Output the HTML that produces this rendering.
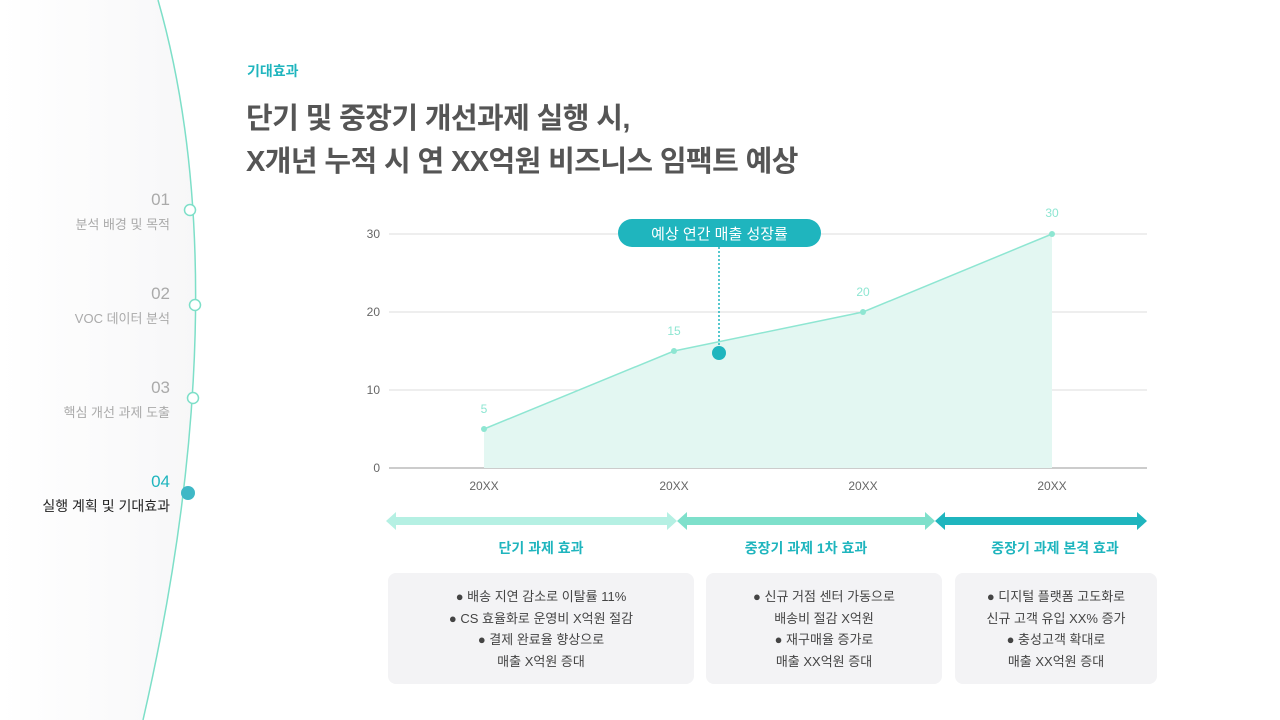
<!DOCTYPE html>
<html><head><meta charset="utf-8"><style>
body{margin:0;width:1280px;height:720px;overflow:hidden;background:#fff;font-family:"Liberation Sans","Noto Sans CJK KR",sans-serif;position:relative}
.a{position:absolute}
.nav{right:1110px;text-align:right;color:#aaa;font-size:13px;width:200px}
.nav b{display:block;font-weight:normal;font-size:17px;color:#aaa;margin-bottom:4px}
.box{position:absolute;top:573px;height:111px;background:#f3f3f5;border-radius:8px;text-align:center;font-size:13px;color:#444;line-height:21.5px;padding-top:13px;box-sizing:border-box}
.lab{position:absolute;top:538px;font-size:14px;font-weight:bold;color:#1fb5be;text-align:center}
</style></head><body>
<svg class="a" style="left:0;top:0" width="1280" height="720">
<defs><linearGradient id="g" x1="0" x2="1"><stop offset="0" stop-color="#fff"/><stop offset="1" stop-color="#f7f7f8"/></linearGradient></defs>
<path d="M0 0 L158 0 C 215 200, 205 450, 143 720 L0 720Z" fill="url(#g)"/>
<path d="M158 0 C 215 200, 205 450, 143 720" fill="none" stroke="#7ddfc8" stroke-width="1.5"/>
<circle cx="190" cy="210" r="5.5" fill="#fff" stroke="#7ddfc8" stroke-width="1.5"/>
<circle cx="195" cy="305" r="5.5" fill="#fff" stroke="#7ddfc8" stroke-width="1.5"/>
<circle cx="193" cy="398" r="5.5" fill="#fff" stroke="#7ddfc8" stroke-width="1.5"/>
<circle cx="188" cy="493" r="7" fill="#3fb8c6"/>
<g stroke="#ddd" stroke-width="1"><line x1="389" y1="234" x2="1147" y2="234"/><line x1="389" y1="312" x2="1147" y2="312"/><line x1="389" y1="390" x2="1147" y2="390"/></g>
<line x1="389" y1="468" x2="1147" y2="468" stroke="#bbb" stroke-width="1.5"/>
<polygon points="484,429 674,351 863,312 1052,234 1052,468 484,468" fill="#e3f7f2"/>
<polyline points="484,429 674,351 863,312 1052,234" fill="none" stroke="#8ee6d2" stroke-width="1.5"/>
<g fill="#8ee6d2"><circle cx="484" cy="429" r="3"/><circle cx="674" cy="351" r="3"/><circle cx="863" cy="312" r="3"/><circle cx="1052" cy="234" r="3"/></g>
<g font-size="12" fill="#8ee6d2" text-anchor="middle"><text x="484" y="413">5</text><text x="674" y="335">15</text><text x="863" y="296">20</text><text x="1052" y="217">30</text></g>
<g font-size="12" fill="#666" text-anchor="end"><text x="380" y="238">30</text><text x="380" y="316">20</text><text x="380" y="394">10</text><text x="380" y="472">0</text></g>
<g font-size="12" fill="#666" text-anchor="middle"><text x="484" y="490">20XX</text><text x="674" y="490">20XX</text><text x="863" y="490">20XX</text><text x="1052" y="490">20XX</text></g>
<line x1="719" y1="247" x2="719" y2="350" stroke="#1fb5be" stroke-width="1.5" stroke-dasharray="2,2"/>
<circle cx="719" cy="353" r="7" fill="#1fb5be"/>
<rect x="618" y="219" width="203" height="28" rx="14" fill="#1fb5be"/>
<text x="719.5" y="239" font-size="15" fill="#fff" text-anchor="middle">예상 연간 매출 성장률</text>
<polygon points="386,521 396,512 396,517 667,517 667,512 677,521 667,530 667,525 396,525 396,530" fill="#b5f0e3"/>
<polygon points="677,521 687,512 687,517 925,517 925,512 935,521 925,530 925,525 687,525 687,530" fill="#7ee0cb"/>
<polygon points="935,521 945,512 945,517 1137,517 1137,512 1147,521 1137,530 1137,525 945,525 945,530" fill="#1fb5be"/>
</svg>
<div class="a" style="left:247px;top:61px;font-size:14px;font-weight:bold;color:#1fb5be">기대효과</div>
<div class="a" style="left:246px;top:98px;font-size:29px;font-weight:bold;color:#555;line-height:43px;letter-spacing:-0.6px">단기 및 중장기 개선과제 실행 시,<br>X개년 누적 시 연 XX억원 비즈니스 임팩트 예상</div>
<div class="a nav" style="top:190px;left:-30px"><b>01</b>분석 배경 및 목적</div>
<div class="a nav" style="top:284px;left:-30px"><b>02</b>VOC 데이터 분석</div>
<div class="a nav" style="top:378px;left:-30px"><b>03</b>핵심 개선 과제 도출</div>
<div class="a nav" style="top:472px;left:-30px;color:#222;font-size:14px"><b style="color:#1fb5be">04</b>실행 계획 및 기대효과</div>
<div class="lab" style="left:388px;width:306px">단기 과제 효과</div>
<div class="lab" style="left:706px;width:200px">중장기 과제 1차 효과</div>
<div class="lab" style="left:955px;width:200px">중장기 과제 본격 효과</div>
<div class="box" style="left:388px;width:306px">● 배송 지연 감소로 이탈률 11%<br>● CS 효율화로 운영비 X억원 절감<br>● 결제 완료율 향상으로<br>매출 X억원 증대</div>
<div class="box" style="left:706px;width:236px">● 신규 거점 센터 가동으로<br>배송비 절감 X억원<br>● 재구매율 증가로<br>매출 XX억원 증대</div>
<div class="box" style="left:955px;width:202px">● 디지털 플랫폼 고도화로<br>신규 고객 유입 XX% 증가<br>● 충성고객 확대로<br>매출 XX억원 증대</div>
</body></html>
